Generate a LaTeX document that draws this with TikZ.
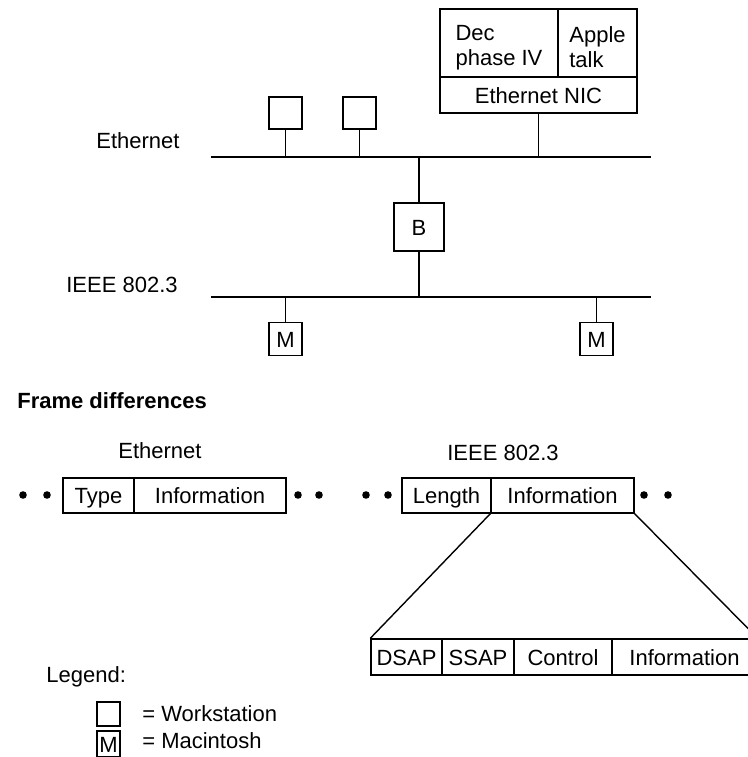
\documentclass[tikz,border=0pt]{standalone}
\usepackage{fontspec}
\setmainfont{Liberation Sans}
\usetikzlibrary{positioning}

\tikzset{
  box/.style={draw, inner sep=0pt, line width=.7pt},
  cell/.style={box, text height=9pt, text depth=1pt},
  dot/.style={circle, fill, inner sep=0pt, minimum size=3.8pt},
}

\begin{document}
\begin{tikzpicture}[x=0.5pt, y=-0.5pt, line width=.7pt,
    font=\fontsize{11}{12.5}\selectfont]
  \useasboundingbox (0,0) rectangle (748,757);
  % station with two stacks
  \node[box, minimum width=59pt, minimum height=34pt, align=left] (dec) at (499,43) {\rule{0pt}{12pt}Dec\\phase IV};
  \node[box, minimum width=39.5pt, minimum height=34pt, align=left] (apple) at (597.5,43) {\rule{0pt}{12pt}Apple\\talk};
  \node[cell, minimum width=98.5pt, minimum height=18pt] (nic) at (538.5,95) {Ethernet NIC};

  % the two cables
  \coordinate (ethL) at (211,157);  \coordinate (ethR) at (651,157);
  \coordinate (ieeeL) at (211,297); \coordinate (ieeeR) at (651,297);
  \draw (ethL) -- (ethR);
  \draw (ieeeL) -- (ieeeR);
  \node (ethlbl) at (138,141) {Ethernet};
  \node (ieeelbl) at (122,285) {IEEE 802.3};

  \draw (nic.south) -- (nic.south |- ethL);
  \foreach \x/\n in {285.5/ws1,359.5/ws2} {
    \node[box, minimum width=16.5pt, minimum height=16pt] (\n) at (\x,113) {};
    \draw (\n.south) -- (\n.south |- ethL);
  }
  \node[cell, minimum width=25pt, minimum height=24pt] (br) at (419,227) {B};
  \draw (br.north) -- (br.north |- ethL);
  \draw (br.south) -- (br.south |- ieeeL);
  \foreach \x/\n in {285.5/mac1,596.5/mac2} {
    \node[cell, minimum width=16.5pt, minimum height=16.5pt] (\n) at (\x,339) {M};
    \draw (\n.north) -- (\n.north |- ieeeL);
  }

  % frames
  \node[anchor=west, font=\fontsize{11}{12.5}\selectfont\bfseries] (fdiff) at (10,401) {Frame differences};
  \node (ethframe) at (160,451) {Ethernet};
  \node (ieeeframe) at (503,453) {IEEE 802.3};
  \node[cell, minimum width=35.5pt, minimum height=17.5pt] (type) at (98.5,495.5) {Type};
  \node[cell, minimum width=76pt, minimum height=17.5pt] (info1) at (210,495.5) {Information};
  \node[cell, minimum width=44.5pt, minimum height=17.5pt] (len) at (446.5,495.5) {Length};
  \node[cell, minimum width=71.5pt, minimum height=17.5pt] (info2) at (562.5,495.5) {Information};
  \foreach \x in {23,47,298,319,366,388,644,668} {
    \node[dot] (d\x) at (\x,495) {};
  }

  % LLC header
  \node[cell, minimum width=35.5pt, minimum height=18pt] (dsap) at (406.5,657) {DSAP};
  \node[cell, minimum width=36pt, minimum height=18pt] (ssap) at (478,657) {SSAP};
  \node[cell, minimum width=49pt, minimum height=18pt] (ctrl) at (563,657) {Control};
  \node[cell, minimum width=72.5pt, minimum height=18pt] (info3) at (684.5,657) {Information};
  \draw (info2.south west) -- (dsap.north west);
  \draw (info2.south east) -- (info3.north east);

  % legend
  \node[anchor=west] (leg) at (39,677) {Legend:};
  \node[box, minimum width=11.5pt, minimum height=12pt] (legws) at (108.5,714) {};
  \node[anchor=west] (legwstxt) at (135,714) {= Workstation};
  \node[cell, minimum width=11.5pt, minimum height=13pt] (legmac) at (108.5,744) {M};
  \node[anchor=west] (legmactxt) at (135,741) {= Macintosh};
\end{tikzpicture}
\end{document}
